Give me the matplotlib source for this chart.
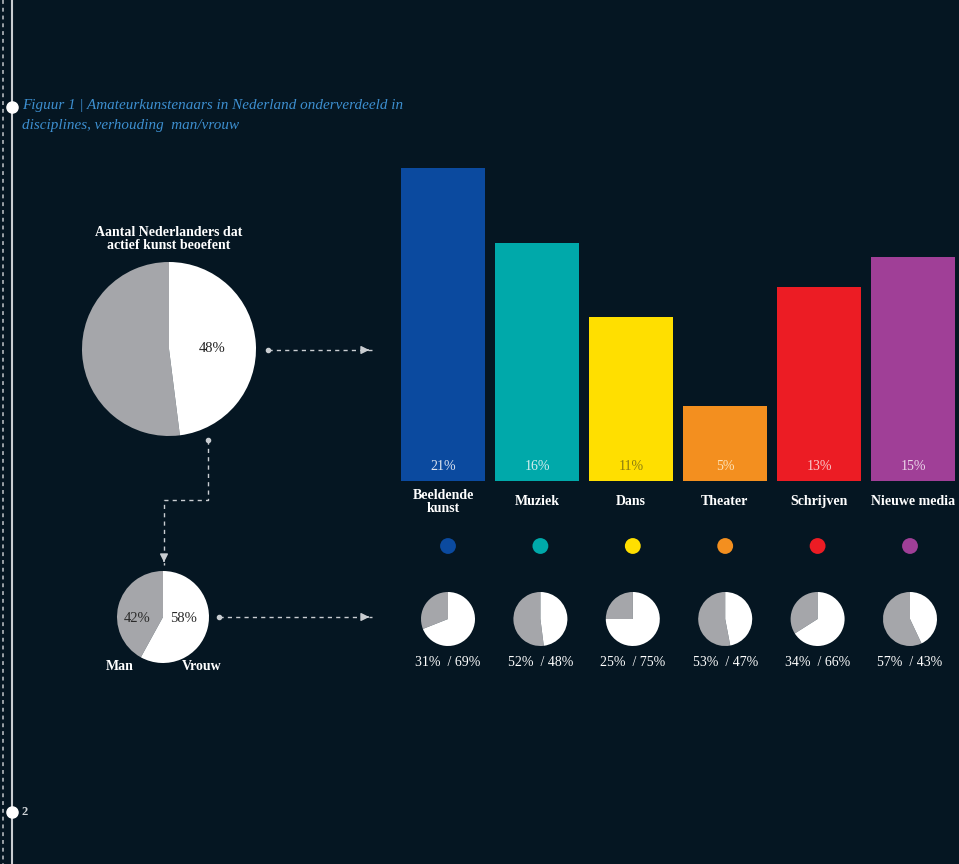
import matplotlib
matplotlib.use("Agg")
import matplotlib.pyplot as plt

plt.rcParams['font.family'] = ['Liberation Serif', 'DejaVu Serif']

W, H = 959, 864
BG = '#051622'
GRAY = '#a5a6aa'
LINE = '#c9cdd1'

# data
disciplines = ['Beeldende\nkunst', 'Muziek', 'Dans', 'Theater', 'Schrijven', 'Nieuwe media']
share = [21, 16, 11, 5, 13, 15]
colors = ['#0b4a9f', '#00a9aa', '#ffdf00', '#f38f1f', '#ec1c24', '#a03f97']
label_colors = ['#dde4f0', '#d5eeee', '#8a7c10', '#fde3b8', '#f9c9cb', '#ecd6ea']
men = [31, 52, 25, 53, 34, 57]
women = [69, 48, 75, 47, 66, 43]
active = 48
total_men, total_women = 42, 58

fig = plt.figure(figsize=(W / 100, H / 100), dpi=100, facecolor=BG)

def box(x0, y0, x1, y1):
    # pixel box (top-left origin) -> figure fraction
    return [x0 / W, 1 - y1 / H, (x1 - x0) / W, (y1 - y0) / H]

# overlay for text and connectors
ov = fig.add_axes([0, 0, 1, 1])
ov.set_xlim(0, W)
ov.set_ylim(H, 0)
ov.axis('off')
ov.patch.set_alpha(0)

ov.plot([3, 3], [0, H], color='#9aa0a6', lw=1.4, ls=(0, (2, 2)))
ov.plot([11.5, 11.5], [0, H], color=LINE, lw=1.5)
ov.plot([11.5, 11.5], [107, 812], ls='none', marker='o', ms=8, color='white')

ov.text(22, 106, 'Figuur 1 | Amateurkunstenaars in Nederland onderverdeeld in',
        color='#3d8fd0', fontsize=10.9, style='italic', va='center', ha='left')
ov.text(22, 126, 'disciplines, verhouding  man/vrouw',
        color='#3d8fd0', fontsize=10.9, style='italic', va='center', ha='left')
ov.text(22, 812, '2', color='#d0d4d8', fontsize=9, fontweight='bold', va='center')

ov.text(169, 239, 'Aantal Nederlanders dat\nactief kunst beoefent', color='white', fontsize=10,
        fontweight='bold', ha='center', va='center', linespacing=1.05)

def connector(xs, ys):
    ov.plot(xs, ys, color=LINE, lw=1, ls=(0, (3, 3)))
    ov.plot(xs[0], ys[0], marker='o', ms=3, color=LINE)
    dx = xs[-1] - xs[-2]
    dy = ys[-1] - ys[-2]
    n = (dx ** 2 + dy ** 2) ** 0.5
    ov.annotate('', xy=(xs[-1], ys[-1]), xytext=(xs[-1] - 7 * dx / n, ys[-1] - 7 * dy / n),
                arrowprops=dict(arrowstyle='-|>', color=LINE, lw=1, mutation_scale=12))

connector([268, 372], [350, 350])
connector([219, 372], [617, 617])
connector([208, 208, 164, 164], [440, 500, 500, 565])

ov.text(120, 667, 'Man', color='white', fontsize=10, fontweight='bold', ha='center', va='center')
ov.text(202, 667, 'Vrouw', color='white', fontsize=10, fontweight='bold', ha='center', va='center')

# big pie
ap = fig.add_axes(box(82, 262, 256, 436))
ap.pie([100 - active, active], colors=[GRAY, 'white'], startangle=90, counterclock=True)
ap.set_xlim(-1, 1)
ap.set_ylim(-1, 1)
ap.text(0.49, 0, f'{active}%', color='#222222', fontsize=10.5, ha='center', va='center')

# man / vrouw pie
am = fig.add_axes(box(117, 571, 209, 663))
am.pie([total_men, total_women], colors=[GRAY, 'white'], startangle=90, counterclock=True)
am.set_xlim(-1, 1)
am.set_ylim(-1, 1)
am.text(-0.57, -0.04, f'{total_men}%', color='#2a2a2a', fontsize=10.5, ha='center', va='center')
am.text(0.45, -0.04, f'{total_women}%', color='#2a2a2a', fontsize=10.5, ha='center', va='center')

# bars
ab = fig.add_axes(box(401, 168, 955, 481))
ab.patch.set_alpha(0)
idx = range(len(share))
ab.bar(idx, share, width=0.894, color=colors)
ab.set_xlim(-0.447, 5.447)
ab.set_ylim(0, 21)
ab.axis('off')
for i, v in enumerate(share):
    ab.text(i, 1.0, f'{v}%', color=label_colors[i], fontsize=10, ha='center', va='center')
    ab.text(i, -1.4, disciplines[i], color='white', fontsize=10, fontweight='bold',
            ha='center', va='center', linespacing=0.95, clip_on=False)

# dot / small pie row
ar = fig.add_axes(box(401.8, 525, 956.2, 685))
ar.patch.set_alpha(0)
ar.set_xlim(-0.5, 5.5)
ar.set_ylim(685, 525)
ar.axis('off')
ar.scatter(list(idx), [546] * len(share), s=130, color=colors, linewidths=0)
for i in idx:
    ar.text(i, 663, f'{men[i]}%  / {women[i]}%', color='white', fontsize=10,
            ha='center', va='center')
    cx = 448 + 92.4 * i
    sp = fig.add_axes(box(cx - 27, 592, cx + 27, 646))
    sp.pie([men[i], women[i]], colors=[GRAY, 'white'], startangle=90, counterclock=True)
    sp.set_xlim(-1, 1)
    sp.set_ylim(-1, 1)

fig.savefig('out.png', dpi=100, facecolor=BG)
